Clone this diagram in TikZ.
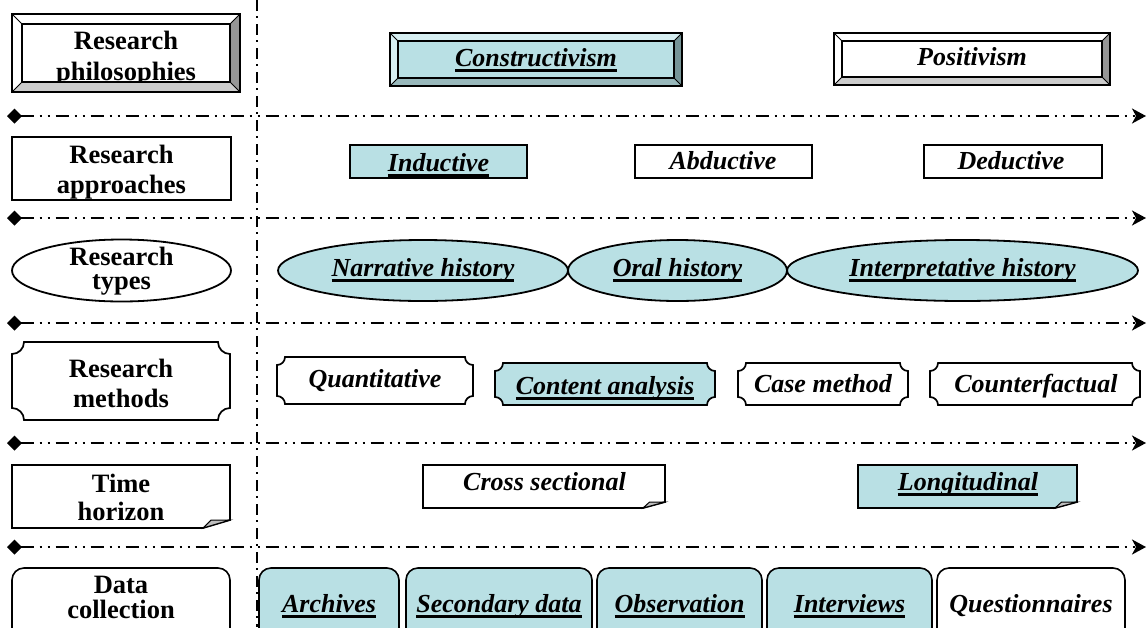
\documentclass[tikz,border=0pt]{standalone}
\usepackage{fontspec}
\setmainfont{Liberation Serif}
\usetikzlibrary{arrows.meta}
\definecolor{tealf}{RGB}{185,224,228}
\definecolor{tealL}{RGB}{214,238,241}
\definecolor{tealR}{RGB}{118,148,151}
\definecolor{tealB}{RGB}{152,184,187}
\definecolor{grayR}{RGB}{150,150,150}
\definecolor{grayB}{RGB}{204,204,204}
\definecolor{foldg}{RGB}{190,190,190}
\newcommand\myul[1]{\setbox0=\hbox{#1}\rlap{\rule[-5.8pt]{\wd0}{2.8pt}}\box0}
\newcommand\twol[3]{\vtop{\baselineskip=#3pt\lineskiplimit=-50pt\halign{\hfil##\hfil\cr#1\cr#2\cr}}}
% bevel overlay: x1 y1 x2 y2 d topleft right bottom
\newcommand\bevelfg[8]{%
  \fill[#6] (#1,#2) -- (#3,#2) -- ({#3-#5},{#2+#5}) -- ({#1+#5},{#2+#5}) -- cycle;
  \fill[#6] (#1,#2) -- ({#1+#5},{#2+#5}) -- ({#1+#5},{#4-#5}) -- (#1,#4) -- cycle;
  \fill[#7] (#3,#2) -- (#3,#4) -- ({#3-#5},{#4-#5}) -- ({#3-#5},{#2+#5}) -- cycle;
  \fill[#8] (#1,#4) -- (#3,#4) -- ({#3-#5},{#4-#5}) -- ({#1+#5},{#4-#5}) -- cycle;
  \draw[bevline] ({#1+#5},{#2+#5}) rectangle ({#3-#5},{#4-#5});
  \draw[bevthin] (#1,#2) -- ({#1+#5},{#2+#5}) (#3,#2) -- ({#3-#5},{#2+#5})
     (#3,#4) -- ({#3-#5},{#4-#5}) (#1,#4) -- ({#1+#5},{#4-#5});
  \draw[boxl] (#1,#2) rectangle (#3,#4);
}
% plaque: opts x1 y1 x2 y2 r
\newcommand\plaque[6]{%
  \path[#1] ({#2+#6},#3) -- ({#4-#6},#3) arc[start angle=180,end angle=90,radius=#6]
    -- (#4,{#5-#6}) arc[start angle=270,end angle=180,radius=#6]
    -- ({#2+#6},#5) arc[start angle=360,end angle=270,radius=#6]
    -- (#2,{#3+#6}) arc[start angle=90,end angle=0,radius=#6] -- cycle;
}
% folded corner box: opts x1 y1 x2 y2 fw fh
\newcommand\foldbox[7]{%
  \path[#1] (#2,#3) -- (#4,#3) -- (#4,{#5-#7}) -- ({#4-#6},#5) -- (#2,#5) -- cycle;
  \filldraw[foldst] ({#4-#6},#5) -- (#4,{#5-#7}) -- ({#4-0.7*#6},{#5-#7}) -- cycle;
}
\tikzset{
  sepline/.style={line width=2pt,
    dash pattern=on 13pt off 6pt on 2pt off 6pt on 2pt off 6pt,
    arrows={Diamond[length=15pt,width=15pt]-Stealth[length=14pt,width=15pt,inset=4pt]}},
  vline/.style={line width=1.5pt, dash pattern=on 11pt off 5pt on 2pt off 6pt},
  boxl/.style={draw=black, line width=1.7pt},
  bevline/.style={draw=black, line width=1.4pt},
  bevthin/.style={draw=black, line width=0.9pt},
  foldst/.style={fill=foldg, draw=black, line width=1pt},
  lab/.style={font=\bfseries\fontsize{26.5}{31}\selectfont, anchor=base, inner sep=0pt},
  itl/.style={font=\bfseries\itshape\fontsize{26}{30}\selectfont, anchor=base, inner sep=0pt},
  ell/.style={draw=black, line width=1.8pt},
  rbox/.style={draw=black, line width=1.6pt, rounded corners=12pt},
}
\begin{document}
\begin{tikzpicture}[x=1pt,y=-1pt]
\clip (0,0) rectangle (1147,627);
\fill[white] (0,0) rectangle (1147,627);

% ---- separators
\coordinate (vt) at (257,0);
\coordinate (vb) at (257,627);
\draw[vline] (vt) -- (vb);
\foreach \yy/\nm in {116/a,218/b,323/c,443/d,547/e}{
  \coordinate (s\nm l) at (7,\yy);
  \coordinate (s\nm r) at (1146,\yy);
  \draw[sepline] (s\nm l) -- (s\nm r);
}

% ---- row 1: philosophies (bevel)
\node[lab] (phil) at (126,49) {\twol{Research}{philosophies}{31}};
\bevelfg{12}{14}{240}{92}{10}{white}{grayR}{grayB}
\fill[tealf] (390,33) rectangle (682,86);
\node[itl] (constr) at (536,66) {\myul{Constructivism}};
\bevelfg{390}{33}{682}{86}{8}{tealL}{tealR}{tealB}
\node[itl] (posit) at (972,65) {Positivism};
\bevelfg{834}{33}{1110}{85}{8}{white}{grayR}{grayB}

% ---- row 2: approaches (rectangles)
\draw[boxl] (12,137) rectangle (231,200);
\node[lab] (appr) at (121.5,163) {\twol{Research}{approaches}{30}};
\draw[boxl,fill=tealf] (350,145) rectangle (527,178);
\node[itl] (induct) at (438.5,171) {\myul{Inductive}};
\draw[boxl] (635,145) rectangle (812,178);
\node[itl] (abduct) at (723,169) {Abductive};
\draw[boxl] (924,145) rectangle (1102,178);
\node[itl] (deduct) at (1011,169) {Deductive};

% ---- row 3: types (ellipses)
\draw[ell] (121.5,270.5) ellipse[x radius=109.5,y radius=31];
\node[lab] (types) at (121.5,265) {\twol{Research}{types}{24}};
\draw[ell,fill=tealf] (423,270.5) ellipse[x radius=145,y radius=30.5];
\draw[ell,fill=tealf] (677.5,270.5) ellipse[x radius=109.5,y radius=30.5];
\draw[ell,fill=tealf] (962.5,270.5) ellipse[x radius=175.5,y radius=30.5];
\node[itl] (narr) at (423,276) {\myul{Narrative history}};
\node[itl] (oral) at (677.5,276) {\myul{Oral history}};
\node[itl] (interp) at (962.5,276) {\myul{Interpretative history}};

% ---- row 4: methods (plaques)
\plaque{boxl}{12}{342}{230}{420}{12}
\node[lab] (meth) at (121,377) {\twol{Research}{methods}{30}};
\plaque{boxl}{277}{357}{473}{404}{8}
\node[itl] (quant) at (375,387) {Quantitative};
\plaque{boxl,fill=tealf}{495}{363}{715}{405}{8}
\node[itl] (content) at (605,394) {\myul{Content analysis}};
\plaque{boxl}{738}{363}{908}{405}{8}
\node[itl] (casem) at (823,392) {Case method};
\plaque{boxl}{930}{363}{1140}{405}{8}
\node[itl] (counter) at (1036,392) {Counterfactual};

% ---- row 5: time horizon (folded corners)
\foldbox{boxl}{12}{465}{230}{528}{27}{8}
\node[lab] (time) at (121,492) {\twol{Time}{horizon}{28}};
\foldbox{boxl}{423}{465}{665}{508}{22}{6}
\node[itl] (cross) at (544.5,490) {Cross sectional};
\foldbox{boxl,fill=tealf}{858}{465}{1077}{508}{22}{6}
\node[itl] (longit) at (968,490) {\myul{Longitudinal}};

% ---- row 6: data collection (rounded)
\draw[rbox] (12,568) rectangle (230,680);
\node[lab] (data) at (121,593) {\twol{Data}{collection}{25}};
\draw[rbox,fill=tealf] (259,568) rectangle (399,680);
\draw[rbox,fill=tealf] (406,568) rectangle (592,680);
\draw[rbox,fill=tealf] (597,568) rectangle (762,680);
\draw[rbox,fill=tealf] (767,568) rectangle (932,680);
\draw[rbox] (937,568) rectangle (1125,680);
\node[itl] (arch) at (329,612) {\myul{Archives}};
\node[itl] (second) at (499,612) {\myul{Secondary data}};
\node[itl] (observ) at (679.5,612) {\myul{Observation}};
\node[itl] (interv) at (849.5,612) {\myul{Interviews}};
\node[itl] (quest) at (1031,612) {Questionnaires};
\end{tikzpicture}
\end{document}
